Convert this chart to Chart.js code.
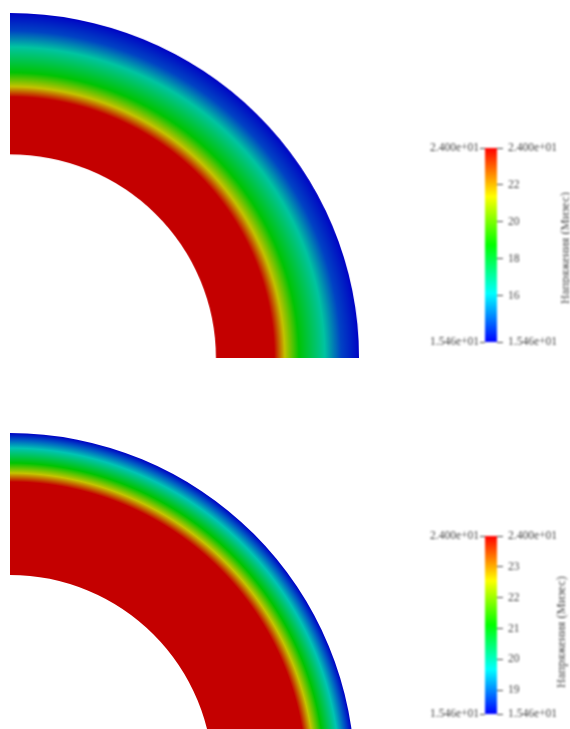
<!DOCTYPE html>
<html>
<head>
<meta charset="utf-8">
<script src="https://cdn.jsdelivr.net/npm/chart.js@4/dist/chart.umd.min.js"></script>
<style>
html, body { margin: 0; background: #fff; overflow: hidden; width: 570px; height: 729px; }
canvas { position: absolute; }
.ring { filter: blur(0.6px); }
.bar { filter: blur(0.8px); }
</style>
</head>
<body>
<canvas id="ringTop" class="ring" width="347" height="347" style="left:10px;top:13px;transform-origin:0 0;transform:scale(1.006,0.994)"></canvas>
<canvas id="barTop" class="bar" width="150" height="230" style="left:420px;top:130px"></canvas>
<canvas id="ringBottom" class="ring" width="345" height="345" style="left:10px;top:433px"></canvas>
<canvas id="barBottom" class="bar" width="150" height="209" style="left:420px;top:520px"></canvas>
<script>
// 應力沿壁厚的分佈 (0 = inner edge, 1 = outer edge)
const wallTop = [0, 0.406, 0.48, 0.58, 0.76, 0.875, 0.98, 1];
const stressTop = [24, 24, 21.4, 18.7, 16.6, 14.4, 13.7, 13.5];
const wallBottom = [0, 0.655, 0.718, 0.789, 0.894, 0.95, 1];
const stressBottom = [24, 24, 22.56, 21.1, 19.8, 18.9, 18.23];

// colour bars
const rangeTop = [13.5, 24];
const rangeBottom = [18.23, 24];
const ticksTop = [24, 22, 20, 18, 16, 13.5];
const tickLabelsTop = ['2.400e+01', '22', '20', '18', '16', '1.546e+01'];
const ticksBottom = [24, 23, 22, 21, 20, 19, 18.23];
const tickLabelsBottom = ['2.400e+01', '23', '22', '21', '20', '19', '1.546e+01'];
const barTitle = 'Напряжения (Мизес)';

const rainbow = [[0, 0, 255], [0, 255, 255], [0, 255, 0], [255, 255, 0], [255, 0, 0]];
const fieldShade = 0.77;

function colourAt(t, shade) {
    t = Math.max(0, Math.min(1, t)) * (rainbow.length - 1);
    const i = Math.min(Math.floor(t), rainbow.length - 2);
    const f = t - i;
    const rgb = rainbow[i].map((c, k) => Math.round((c + (rainbow[i + 1][k] - c) * f) * shade));
    return `rgb(${rgb.join(',')})`;
}

function drawRing(id, wall, stress, range, innerRatio) {
    new Chart(document.getElementById(id), {
        type: 'doughnut',
        data: {
            labels: ['stress'],
            datasets: [{
                data: [1],
                borderWidth: 0,
                backgroundColor: function(context) {
                    const area = context.chart.chartArea;
                    if (!area) return '#c80000';
                    const outer = area.width;
                    const grad = context.chart.ctx.createRadialGradient(area.left, area.bottom, outer * innerRatio, area.left, area.bottom, outer);
                    wall.forEach((w, i) => {
                        grad.addColorStop(w, colourAt((stress[i] - range[0]) / (range[1] - range[0]), fieldShade));
                    });
                    return grad;
                }
            }]
        },
        options: {
            responsive: false,
            animation: false,
            rotation: 0,
            circumference: 90,
            cutout: (innerRatio * 100) + '%',
            events: [],
            plugins: { legend: { display: false }, tooltip: { enabled: false } }
        }
    });
}

function drawBar(id, range, ticks, tickLabels, padTop, padBottom, titleX, titleY) {
    const labelFor = v => tickLabels[ticks.indexOf(v)];
    const tickFont = { family: '"Liberation Serif"', size: 11.5 };
    const axisBase = {
        min: range[0],
        max: range[1],
        border: { display: false },
        ticks: { color: '#444', font: tickFont, autoSkip: false, maxRotation: 0, callback: labelFor },
    };
    new Chart(document.getElementById(id), {
        type: 'bar',
        data: {
            labels: ['stress'],
            datasets: [{
                data: [range],
                barPercentage: 1,
                categoryPercentage: 1,
                yAxisID: 'y',
                backgroundColor: function(context) {
                    const area = context.chart.chartArea;
                    if (!area) return '#00f';
                    const grad = context.chart.ctx.createLinearGradient(0, area.bottom, 0, area.top);
                    rainbow.forEach((c, i) => grad.addColorStop(i / (rainbow.length - 1), colourAt(i / (rainbow.length - 1), 1)));
                    return grad;
                }
            }]
        },
        options: {
            responsive: false,
            animation: false,
            events: [],
            layout: { padding: { top: padTop, bottom: padBottom, left: 0, right: 0 } },
            scales: {
                x: { display: false },
                y: {
                    ...axisBase,
                    position: 'left',
                    ticks: { ...axisBase.ticks, padding: 1 },
                    grid: { drawOnChartArea: false, tickLength: 5, color: '#444' },
                    afterBuildTicks: axis => { axis.ticks = [range[1], range[0]].map(v => ({ value: v })); },
                    afterFit: axis => { axis.width = 65; }
                },
                y1: {
                    ...axisBase,
                    position: 'right',
                    ticks: { ...axisBase.ticks, padding: 5 },
                    grid: { drawOnChartArea: false, tickLength: 6, color: '#444' },
                    afterBuildTicks: axis => { axis.ticks = ticks.map(v => ({ value: v })); },
                    afterFit: axis => { axis.width = 73; }
                }
            },
            plugins: { legend: { display: false }, tooltip: { enabled: false } }
        },
        plugins: [{
            id: 'barTitle',
            afterDraw: function(chart) {
                const c = chart.ctx;
                c.save();
                c.translate(titleX, titleY);
                c.rotate(-Math.PI / 2);
                c.font = '12.5px "Liberation Serif"';
                c.fillStyle = '#444';
                c.textAlign = 'center';
                c.textBaseline = 'middle';
                c.fillText(barTitle, 0, 0);
                c.restore();
            }
        }]
    });
}

drawRing('ringTop', wallTop, stressTop, rangeTop, 0.59);
drawRing('ringBottom', wallBottom, stressBottom, rangeBottom, 203 / 345);
drawBar('barTop', rangeTop, ticksTop, tickLabelsTop, 18, 18, 146, 118);
drawBar('barBottom', rangeBottom, ticksBottom, tickLabelsBottom, 16, 15, 142, 112);
</script>
</body>
</html>
